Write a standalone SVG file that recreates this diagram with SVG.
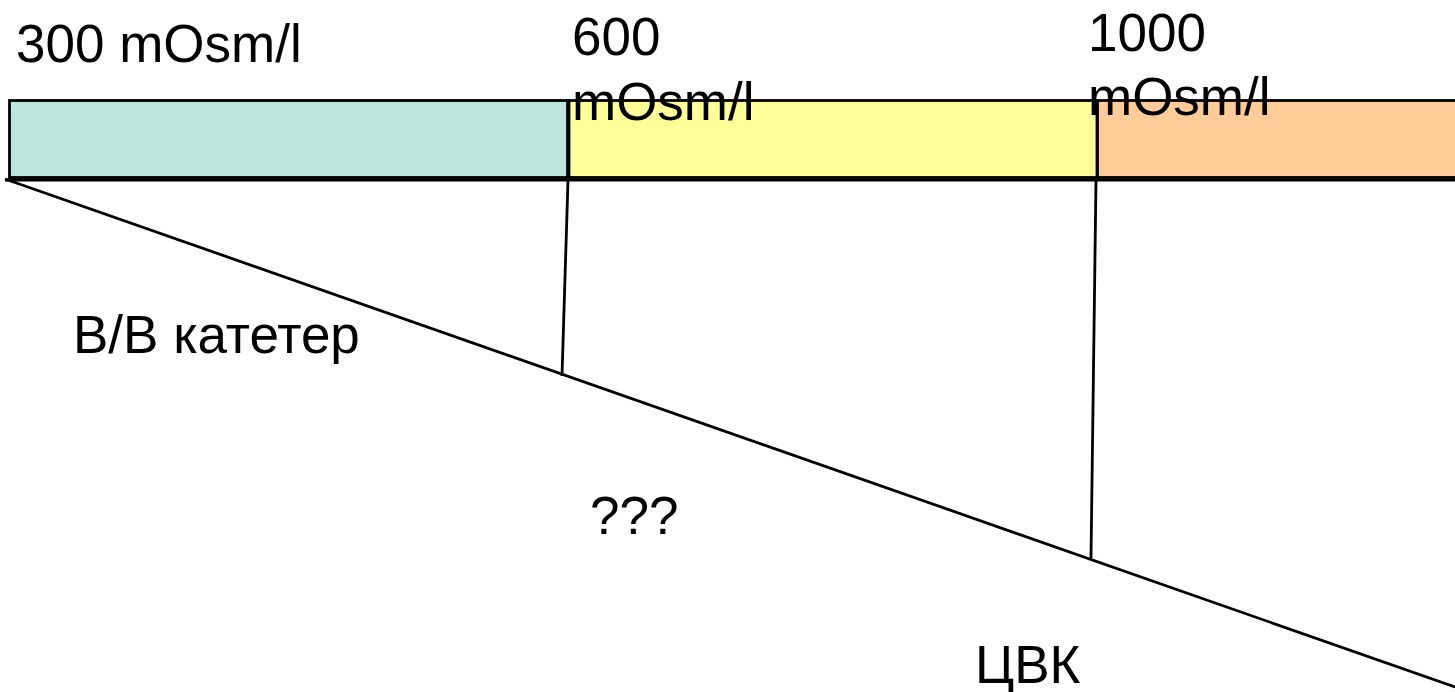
<svg xmlns="http://www.w3.org/2000/svg" width="1455" height="692" viewBox="0 0 1455 692">
  <style>
    .lbl { font-family: "Liberation Sans", Arial, sans-serif; font-size: 53px; fill: #000; }
    .band { stroke: #000; stroke-width: 2.8; }
    .ln { stroke: #000; stroke-width: 2.8; fill: none; }
  </style>
  <rect width="1455" height="692" fill="#fff"/>

  <!-- osmolarity bands -->
  <g id="band-300">
    <rect class="band" x="9.5" y="100.5" width="558" height="77" fill="#BBE6DC"/>
  </g>
  <g id="band-600">
    <rect class="band" x="569" y="100.5" width="528" height="77" fill="#FFFF99"/>
  </g>
  <g id="band-1000">
    <rect class="band" x="1097.5" y="100.5" width="380" height="77" fill="#FFCC99"/>
  </g>

  <!-- connectors: baseline, slope and drop lines -->
  <g id="connectors">
    <line class="ln" x1="5" y1="180" x2="1455" y2="180"/>
    <line class="ln" x1="5" y1="179" x2="1455" y2="687"/>
    <line class="ln" x1="568" y1="180" x2="562" y2="376"/>
    <line class="ln" x1="1096" y1="180" x2="1091" y2="558"/>
  </g>

  <!-- labels -->
  <g id="label-300"><text class="lbl" x="16" y="62">300 mOsm/l</text></g>
  <g id="label-600">
    <text class="lbl" x="572" y="55">600</text>
    <text class="lbl" x="572" y="120">mOsm/l</text>
  </g>
  <g id="label-1000">
    <text class="lbl" x="1088" y="51">1000</text>
    <text class="lbl" x="1088" y="115">mOsm/l</text>
  </g>
  <g id="label-iv"><text class="lbl" x="73" y="353">В/В катетер</text></g>
  <g id="label-unknown"><text class="lbl" x="590" y="534">???</text></g>
  <g id="label-cvc"><text class="lbl" x="975" y="683">ЦВК</text></g>
</svg>
